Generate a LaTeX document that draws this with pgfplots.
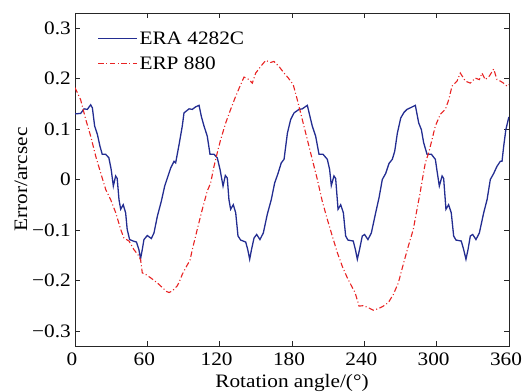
\documentclass[border=0pt]{standalone}
\usepackage{fontspec}
\setmainfont{Liberation Serif}[FakeStretch=1.12]
\usepackage{pgfplots}
\pgfplotsset{compat=1.18}

\definecolor{eraBlue}{RGB}{35,45,145}
\definecolor{erpRed}{RGB}{232,35,35}

\newcommand{\chartfont}{\fontsize{19}{21}\selectfont}

\begin{document}
\begin{tikzpicture}
\begin{axis}[
  scale only axis, width=434pt, height=333pt,
  xmin=0, xmax=360, ymin=-0.33, ymax=0.33,
  xtick={0,60,120,180,240,300,360},
  ytick={-0.3,-0.2,-0.1,0,0.1,0.2,0.3},
  yticklabels={\mbox{−0.3},\mbox{−0.2},\mbox{−0.1},\mbox{0},\mbox{0.1},\mbox{0.2},\mbox{0.3}},
  xticklabels={\mbox{0},\mbox{60},\mbox{120},\mbox{180},\mbox{240},\mbox{300},\mbox{360}},
  tick align=inside, xtick pos=both, ytick pos=both,
  major tick length=5pt,
  axis line style={black!85, line width=0.7pt},
  tick style={black!85, line width=0.6pt},
  ticklabel style={font=\chartfont},
  yticklabel style={inner sep=4pt},
  xticklabel style={anchor=base, yshift=-20pt, xshift=-3pt},
  xlabel={Rotation angle/(°)}, ylabel={Error/arcsec},
  label style={font=\chartfont},
  xlabel style={at={(axis description cs:0.5,-0.1261)}, anchor=base},
  ylabel style={at={(axis description cs:-0.1106,0.5)}, anchor=base},
  legend style={at={(axis description cs:0.045,0.955)}, anchor=north west,
    draw=none, fill=none, font=\chartfont, row sep=8pt,
    nodes={inner sep=1.5pt}},
  legend cell align=left,
  legend image code/.code={\draw[#1] (0pt,0pt) -- (39pt,0pt);},
]
% ERA 4282C: four-lobed error curve
\addplot[eraBlue, line width=1.3pt] coordinates {
(0,0.130) (4.7,0.131) (7.5,0.140) (10.2,0.139) (13,0.148) (14.4,0.142)
(16.3,0.106) (18.6,0.089) (20.7,0.066) (22.6,0.050) (25.4,0.050) (28.1,0.043)
(30,0.020) (31.8,-0.013) (33.7,0.007) (35,0.002) (36.5,-0.040) (37.9,-0.059)
(40,-0.050) (42,-0.066) (43.3,-0.099) (45.3,-0.119) (48.3,-0.122) (51,-0.124)
(53,-0.139) (54.4,-0.157) (55.8,-0.139) (57.2,-0.119) (60,-0.111) (63.3,-0.117)
(65.5,-0.106) (68.3,-0.073) (71.6,-0.043) (74.4,-0.013) (77.2,0.007) (79.4,0.023)
(82.1,0.036) (83.5,0.033) (86.3,0.069) (89,0.106)
(90.4,0.132) (94.6,0.140) (97.3,0.139) (100.1,0.144) (102.9,0.147) (104.8,0.125)
(107,0.106) (109.7,0.086) (112,0.050) (115.3,0.050) (118,0.043) (120.3,0.020)
(122.8,-0.013) (124.7,0.008) (126.3,0.003) (127.7,-0.040) (129.1,-0.059) (131.3,-0.050)
(133.3,-0.066) (135.2,-0.112) (137.4,-0.120) (141.6,-0.124) (143.3,-0.139) (144.9,-0.158)
(146.4,-0.139) (148.5,-0.116) (150.7,-0.109) (153.4,-0.119) (156.2,-0.106) (159.5,-0.069)
(162.8,-0.040) (165.6,-0.007) (168.4,0.012) (171.1,0.033) (173.4,0.040) (176.2,0.092)
(178.9,0.119)
(181.7,0.132) (185.8,0.139) (188.5,0.140) (192.7,0.147) (194.9,0.125) (196.8,0.106)
(199.6,0.086) (202.4,0.050) (205.7,0.050) (209.3,0.040) (211.2,0.020) (212.6,-0.012)
(214.8,0.007) (216.2,0.002) (218.2,-0.059) (220.4,-0.050) (222.6,-0.066) (224.5,-0.112)
(226.4,-0.120) (230.8,-0.122) (232.6,-0.139) (234.2,-0.158) (236,-0.139) (238.3,-0.112)
(240.2,-0.109) (243,-0.119) (245.8,-0.106) (249.4,-0.066) (252.2,-0.036) (254.9,0.000)
(257.7,0.012) (260.5,0.032) (263.2,0.040) (265.2,0.056) (267.4,0.092) (270.2,0.122)
(272.9,0.133)
(275.4,0.139) (278.1,0.142) (282.3,0.147) (285.1,0.112) (287.3,0.099) (289.2,0.073)
(292,0.050) (295.6,0.050) (298.9,0.040) (300.3,0.017) (302.2,-0.013) (304.5,0.007)
(305.8,0.002) (307.7,-0.059) (309.9,-0.050) (312.1,-0.066) (314.1,-0.112) (316,-0.120)
(320.4,-0.122) (322.4,-0.139) (324.3,-0.158) (326,-0.139) (327.9,-0.112) (329.9,-0.109)
(332.6,-0.119) (335.4,-0.106) (339,-0.066) (341.8,-0.040) (344.5,0.000) (347.3,0.012)
(350,0.026) (352.8,0.036) (354.2,0.036) (355.6,0.066) (357.4,0.099) (359.7,0.122)
(360,0.124)
};
\addlegendentry{ERA 4282C}
% ERP 880: two-lobed error curve
\addplot[erpRed, line width=1.1pt, dash pattern=on 5.5pt off 2.5pt on 1pt off 2.5pt] coordinates {
(0,0.182) (4.7,0.158) (8.9,0.119) (13,0.086) (17.2,0.046) (21.3,0.013)
(25.5,-0.020) (29.6,-0.040) (33.8,-0.066) (37.9,-0.099) (40.6,-0.116) (44.8,-0.122)
(48.9,-0.139) (53.1,-0.152) (54.5,-0.160) (55.8,-0.185) (58.6,-0.188) (62.8,-0.195)
(68.3,-0.205) (72.4,-0.214) (76,-0.222) (78,-0.224) (80.7,-0.221) (84.8,-0.211)
(87,-0.200) (89,-0.188) (92.5,-0.172) (95.4,-0.160) (97.3,-0.139) (101.4,-0.099)
(105.6,-0.059) (109.7,-0.023) (112.5,-0.007) (115.3,0.026) (118,0.053) (120.8,0.079)
(125,0.112) (129.1,0.139) (133.3,0.165) (137.4,0.188) (140.2,0.203) (144.3,0.198)
(147.1,0.191) (149.9,0.211) (154,0.224) (158.2,0.236) (162.3,0.232) (165,0.234)
(169.2,0.224) (173.4,0.211) (177,0.201) (181,0.188) (184.4,0.158) (188.5,0.119)
(192.7,0.079) (196.8,0.040) (201,0.000) (205.1,-0.043) (209.3,-0.079) (213.4,-0.112)
(217.6,-0.145) (221.7,-0.172) (225.9,-0.195) (230,-0.214) (232.3,-0.224) (235.6,-0.251)
(239.2,-0.250) (243.3,-0.254) (247.4,-0.259) (251.6,-0.256) (255.7,-0.251) (259.9,-0.244)
(264,-0.228) (268.2,-0.205) (272.3,-0.168) (276.5,-0.132) (280.6,-0.099) (284,-0.055)
(286,-0.030) (288.5,0.005) (290.6,0.033) (293.4,0.053) (296.1,0.079) (298.9,0.106)
(303,0.129) (307.2,0.139) (310,0.158) (312.7,0.185) (316.9,0.195) (319.6,0.211)
(323.8,0.195) (327.9,0.191) (332,0.201) (335.4,0.198) (337.6,0.211) (340.3,0.198)
(343.7,0.205) (347.3,0.219) (350,0.198) (352.8,0.195) (355.5,0.191) (358.3,0.185)
(360,0.188)
};
\addlegendentry{ERP 880}
\end{axis}
\pgfresetboundingbox
\path[use as bounding box] ([shift={(-75pt,-46pt)}]current axis.south west)
  rectangle ([shift={(14pt,13pt)}]current axis.north east);
\end{tikzpicture}
\end{document}
